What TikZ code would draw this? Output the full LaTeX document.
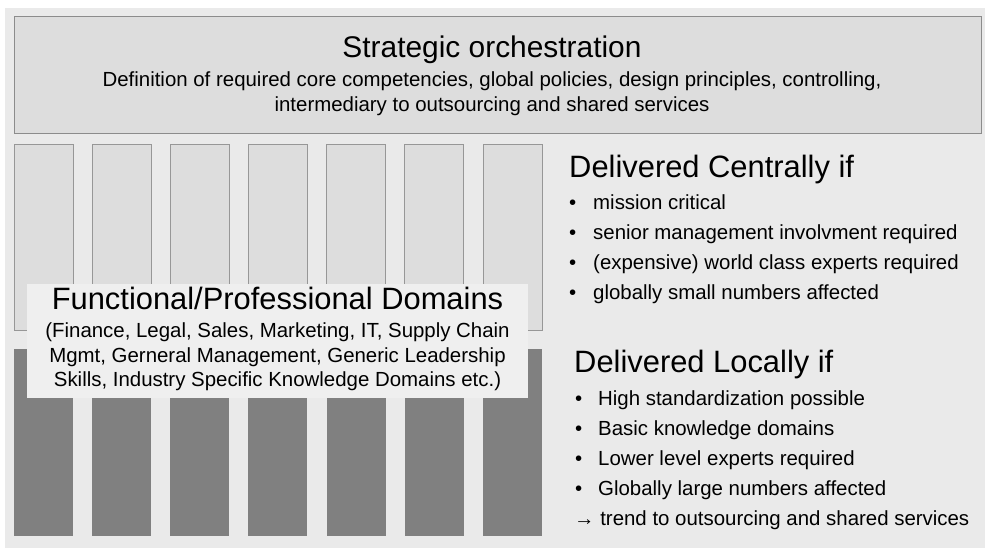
\documentclass[tikz,border=0pt]{standalone}
\usepackage{fontspec}
\setmainfont{Liberation Sans}
\definecolor{canvas}{HTML}{EAEAEA}
\definecolor{panel}{HTML}{DDDDDD}
\definecolor{rim}{HTML}{8C8C8C}
\definecolor{pillar}{HTML}{808080}
\definecolor{label}{HTML}{EFEFEF}
\begin{document}
\begin{tikzpicture}[x=1bp,y=-1bp,
  box/.style={anchor=north west, inner sep=0pt, outer sep=0pt},
  topbox/.style={box, draw=rim, line width=1bp, fill=panel},
  upper/.style={box, draw=rim!90, line width=0.8bp, fill=panel, minimum width=59bp, minimum height=186bp},
  lower/.style={box, fill=pillar, minimum width=59bp, minimum height=187bp},
  labelbox/.style={box, fill=label, minimum width=501bp, minimum height=114bp},
  big/.style={inner sep=0pt, font=\fontsize{30}{36}\selectfont},
  bigger/.style={inner sep=0pt, font=\fontsize{31}{37}\selectfont},
  small/.style={inner sep=0pt, font=\fontsize{20.5}{24}\selectfont},
]
\useasboundingbox (0,0) rectangle (985,548);
% page background
\fill[canvas] (5,8) rectangle (985,548);

% strategic layer
\node[topbox, minimum width=967bp, minimum height=117bp] (top) at (14,17) {};
\node[big, anchor=base] (toptitle) at (492,58) {Strategic orchestration};
\node[small, anchor=base] (topline1) at (492,87) {Definition of required core competencies, global policies, design principles, controlling,};
\node[small, anchor=base] (topline2) at (492,112) {intermediary to outsourcing and shared services};

% seven functional pillars: central part above, local part below
\foreach \i in {1,...,7} {
  \node[upper] (u\i) at ({14+78.15*(\i-1)},144) {};
  \node[lower] (l\i) at ({14+78.15*(\i-1)},349) {};
}

% domain label across the pillars
\node[labelbox] (dom) at (27,284) {};
\node[bigger, anchor=base] (domtitle) at (277.5,310) {Functional/Professional Domains};
\node[small, anchor=base] (dom1) at (277.5,338) {(Finance, Legal, Sales, Marketing, IT, Supply Chain};
\node[small, anchor=base] (dom2) at (277.5,363) {Mgmt, Gerneral Management, Generic Leadership};
\node[small, anchor=base] (dom3) at (277.5,387) {Skills, Industry Specific Knowledge Domains etc.)};

% central delivery criteria
\node[bigger, anchor=base west] (cent) at (569,178) {Delivered Centrally if};
\foreach \t [count=\k] in {mission critical, senior management involvment required, (expensive) world class experts required, globally small numbers affected} {
  \node[small, anchor=base west] (cb\k) at (569,{180+30*\k}) {\textbullet};
  \node[small, anchor=base west] (ct\k) at (593,{180+30*\k}) {\t};
}

% local delivery criteria
\node[bigger, anchor=base west] (loc) at (574,373) {Delivered Locally if};
\foreach \t [count=\k] in {High standardization possible, Basic knowledge domains, Lower level experts required, Globally large numbers affected} {
  \node[small, anchor=base west] (lb\k) at (575,{375+30*\k}) {\textbullet};
  \node[small, anchor=base west] (lt\k) at (598,{375+30*\k}) {\t};
}
\node[small, anchor=base west] (trend) at (574,525) {→ trend to outsourcing and shared services};
\end{tikzpicture}
\end{document}
